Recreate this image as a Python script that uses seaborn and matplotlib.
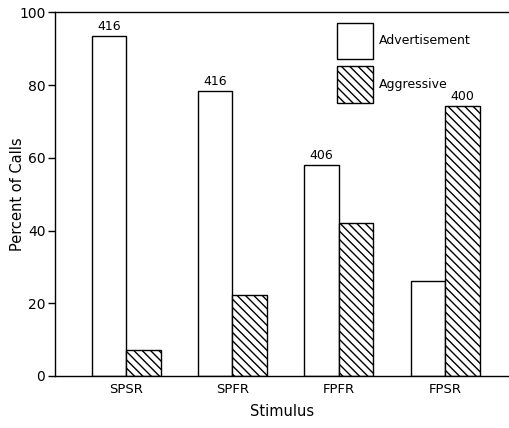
import matplotlib
matplotlib.use("Agg")
import matplotlib.pyplot as plt
import seaborn as sns
import pandas as pd

# Response of males to each stimulus type
stimuli = ["SPSR", "SPFR", "FPFR", "FPSR"]
advertisement = [93.5, 78.4, 58.0, 26.1]
aggressive = [7.2, 22.3, 42.1, 74.3]
n_calls = [416, 416, 406, 400]
call_types = ["Advertisement", "Aggressive"]
y_ticks = [0, 20, 40, 60, 80, 100]

df = pd.DataFrame({
    "Stimulus": stimuli * 2,
    "Call type": [call_types[0]] * 4 + [call_types[1]] * 4,
    "Percent": advertisement + aggressive,
})

sns.set_style("ticks")
plt.rcParams["font.family"] = ["DejaVu Sans"]
plt.rcParams["hatch.linewidth"] = 1.0
plt.rcParams["hatch.color"] = "black"
plt.rcParams["text.color"] = "black"
plt.rcParams["axes.labelcolor"] = "black"
plt.rcParams["xtick.color"] = "black"
plt.rcParams["ytick.color"] = "black"

fig = plt.figure(figsize=(5.10, 4.28), dpi=100)
ax = fig.add_axes([0.108, 0.1215, 0.892, 0.8495])

sns.barplot(data=df, x="Stimulus", y="Percent", hue="Call type",
            order=stimuli, hue_order=call_types,
            palette=["white", "white"], edgecolor="black", linewidth=1.0,
            width=0.65, saturation=1, ax=ax, legend=False)

for bar in ax.containers[1]:
    bar.set_hatch("\\\\\\\\")

# Sample size above the taller bar of each stimulus group
for i, n in enumerate(n_calls):
    pair = [ax.containers[0][i], ax.containers[1][i]]
    tall = max(pair, key=lambda p: p.get_height())
    ax.text(tall.get_x() + tall.get_width() / 2, tall.get_height() + 0.8,
            str(n), ha="center", va="bottom", fontsize=9, color="black")

ax.legend(ax.containers, call_types, loc="upper left",
          bbox_to_anchor=(0.600, 0.995), frameon=False, fontsize=9,
          handlelength=2.9, handleheight=4.1, labelspacing=0.55,
          handletextpad=0.5, borderpad=0.2)

ax.set_ylim(0, 100)
ax.set_xlim(-0.668, 3.61)
ax.set_yticks(y_ticks)
ax.set_yticklabels([str(t) for t in y_ticks], fontsize=10)
ax.tick_params(axis="y", length=5, width=1, direction="out", pad=2)
ax.tick_params(axis="x", length=0, labelsize=9.5, pad=5)
ax.set_xlabel("Stimulus", fontsize=10.5)
ax.set_ylabel("Percent of Calls", fontsize=10.5)
ax.xaxis.set_label_coords(0.5, -0.099)
ax.yaxis.set_label_coords(-0.083, 0.5)
ax.xaxis.label.set_va("center")
ax.yaxis.label.set_va("center")

for side in ["top", "left", "bottom"]:
    ax.spines[side].set_visible(True)
    ax.spines[side].set_linewidth(1.0)
    ax.spines[side].set_color("black")
ax.spines["right"].set_visible(False)

fig.savefig("out.png", dpi=100)
